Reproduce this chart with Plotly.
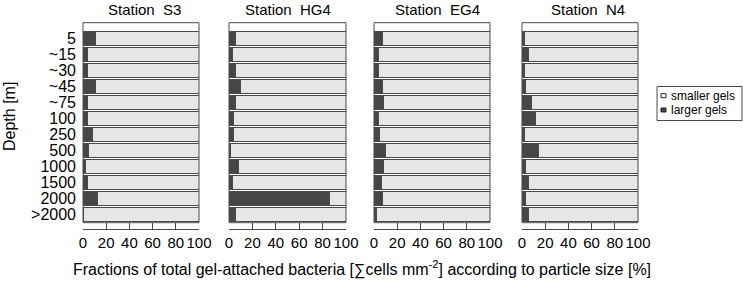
import plotly.graph_objects as go

depths = ["5", "~15", "~30", "~45", "~75", "100", "250", "500", "1000", "1500", "2000", ">2000"]
stations = ["Station  S3", "Station  HG4", "Station  EG4", "Station  N4"]

# fraction of larger gels [%] per depth, for each station
larger_S3 = [11, 4, 3.5, 11, 3.5, 3.5, 8, 4.5, 2.5, 3.5, 12.5, 0.7]
larger_HG4 = [5.2, 2.8, 5.5, 9.5, 5.2, 3.6, 3.6, 1.6, 8.2, 2.8, 86, 5.2]
larger_EG4 = [7.3, 4.2, 3.6, 7.3, 8.5, 4.2, 4.5, 9.7, 8.5, 6.5, 7.3, 2.5]
larger_N4 = [1.8, 5.6, 1.8, 3.3, 8.5, 11.3, 1.8, 14.2, 3.3, 5.6, 3.3, 5.6]
larger_all = [larger_S3, larger_HG4, larger_EG4, larger_N4]

x_ticks = [0, 20, 40, 60, 80, 100]
legend_labels = ["smaller gels", "larger gels"]

W, H = 743, 288
FONT = "Liberation Sans, Arial, sans-serif"
DARK = "#464646"
LIGHT = "#e6e6e6"
EDGE = "#4a4a4a"

# panel pixel boundaries (left, right)
panels_px = [(83, 199), (229, 346), (374, 490), (522, 638)]
title_cx = [144, 288, 437, 588]
frame_top, frame_bot, axis_y = 22.7, 222.7, 229

fig = go.Figure()
for i, larger in enumerate(larger_all):
    smaller = [100 - v for v in larger]
    xa = "x" if i == 0 else f"x{i+1}"
    ya = "y" if i == 0 else f"y{i+1}"
    fig.add_trace(go.Bar(
        y=depths, x=larger, orientation="h", name="larger gels",
        marker=dict(color=DARK, line=dict(color=EDGE, width=1)),
        xaxis=xa, yaxis=ya, showlegend=False,
    ))
    fig.add_trace(go.Bar(
        y=depths, x=smaller, orientation="h", name="smaller gels",
        marker=dict(color=LIGHT, line=dict(color=EDGE, width=1)),
        xaxis=xa, yaxis=ya, showlegend=False,
    ))

layout = dict(
    width=W, height=H, margin=dict(l=0, r=0, t=0, b=0, pad=0, autoexpand=False),
    paper_bgcolor="white", plot_bgcolor="white",
    barmode="stack", bargap=0.16,
    font=dict(family=FONT, color="#000000"),
    showlegend=False,
)

shapes = []
annotations = []
for i, (l, r) in enumerate(panels_px):
    suf = "" if i == 0 else str(i + 1)
    layout[f"xaxis{suf}"] = dict(
        domain=[l / W, r / W], range=[0, 100], anchor="free", automargin=False,
        position=1 - axis_y / H, showline=True, linecolor=EDGE, linewidth=1,
        ticks="inside", ticklen=6, tickcolor=EDGE, tickmode="array", tickvals=x_ticks,
        tickangle=0, showgrid=False, zeroline=False, fixedrange=True,
        tickfont=dict(size=15, family=FONT),
    )
    layout[f"yaxis{suf}"] = dict(
        domain=[1 - frame_bot / H, 1 - frame_top / H], range=[11.5, -1.0],
        anchor=f"x{suf}", showgrid=False, zeroline=False, showline=False, automargin=False,
        ticks="", showticklabels=(i == 0), ticklabelstandoff=6,
        tickmode="array", tickvals=depths,
        tickfont=dict(size=16, family=FONT), fixedrange=True,
        categoryorder="array", categoryarray=depths,
    )
    shapes.append(dict(
        type="rect", xref=f"x{suf} domain", yref=f"y{suf} domain",
        x0=0, x1=1, y0=0, y1=1, line=dict(color=EDGE, width=1),
    ))
    annotations.append(dict(
        text=stations[i], x=title_cx[i] / W, y=1 - 10 / H, xref="paper", yref="paper",
        xanchor="center", yanchor="middle", showarrow=False, font=dict(size=15, family=FONT),
    ))

# legend box (drawn manually to match the small key symbols)
shapes.append(dict(type="rect", xref="paper", yref="paper",
                   x0=657 / W, x1=742 / W, y0=1 - 120.5 / H, y1=1 - 86.5 / H,
                   line=dict(color=EDGE, width=1), fillcolor="white"))
legend_rows = [95.7, 110.0]
legend_fills = ["white", DARK]
for lab, cy, fc in zip(legend_labels, legend_rows, legend_fills):
    shapes.append(dict(type="rect", xref="paper", yref="paper",
                       x0=661 / W, x1=666 / W, y0=1 - (cy + 2) / H, y1=1 - (cy - 2) / H,
                       line=dict(color="#222222", width=1), fillcolor=fc))
    annotations.append(dict(
        text=lab, x=669 / W, y=1 - cy / H, xref="paper", yref="paper",
        xanchor="left", yanchor="middle", showarrow=False, font=dict(size=12, family=FONT),
    ))

annotations.append(dict(
    text="Depth [m]", x=9 / W, y=1 - 117 / H, xref="paper", yref="paper",
    textangle=-90, xanchor="center", yanchor="middle", showarrow=False,
    font=dict(size=16, family=FONT),
))
annotations.append(dict(
    text="Fractions of total gel-attached bacteria [\u2211cells mm<sup>-2</sup>] according to particle size [%]",
    x=362 / W, y=1 - 268 / H, xref="paper", yref="paper",
    xanchor="center", yanchor="middle", showarrow=False, font=dict(size=16, family=FONT),
))

layout["shapes"] = shapes
layout["annotations"] = annotations
fig.update_layout(**layout)
fig.write_html(
    "out.html",
    config={"displayModeBar": False},
    post_script="document.body.style.margin='0';document.body.style.padding='0';document.body.style.overflow='hidden';",
)
